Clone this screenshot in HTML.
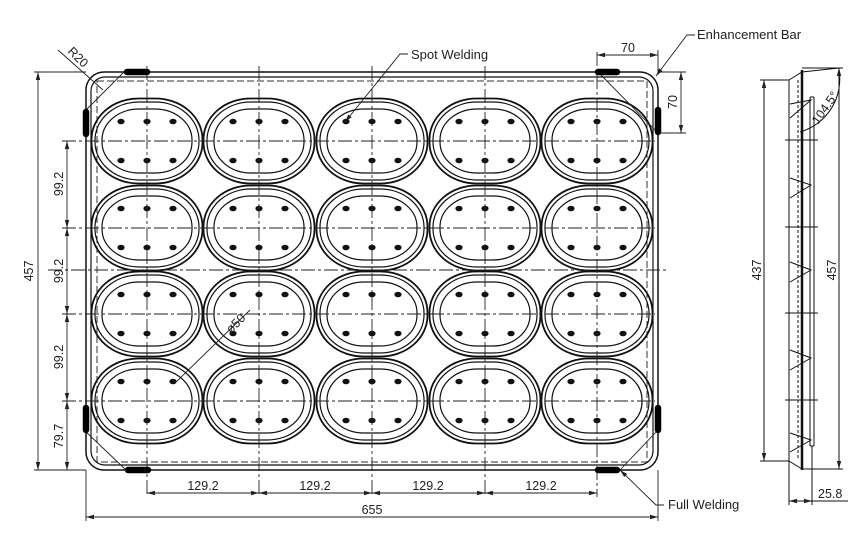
<!DOCTYPE html>
<html><head><meta charset="utf-8"><style>
html,body{margin:0;padding:0;background:#fff;}
svg{display:block;}
text{font-family:"Liberation Sans","DejaVu Sans",sans-serif;fill:#222;}
</style></head><body>
<svg width="866" height="534" viewBox="0 0 866 534" xmlns="http://www.w3.org/2000/svg">
<defs>
<g id="ov">
  <rect x="-55.5" y="-42.5" width="111" height="85" rx="47" ry="41" fill="none" stroke="#111" stroke-width="1.8"/>
  <rect x="-52" y="-39" width="104" height="78" rx="44" ry="38" fill="none" stroke="#111" stroke-width="1.2"/>
  <rect x="-45" y="-32" width="90" height="64" rx="37" ry="31" fill="none" stroke="#111" stroke-width="1.2"/>
  <g fill="#111">
    <ellipse cx="-26" cy="-19.5" rx="3.6" ry="2.8"/><ellipse cx="0" cy="-19.5" rx="3.6" ry="2.8"/><ellipse cx="26" cy="-19.5" rx="3.6" ry="2.8"/>
    <ellipse cx="-26" cy="19.5" rx="3.6" ry="2.8"/><ellipse cx="0" cy="19.5" rx="3.6" ry="2.8"/><ellipse cx="26" cy="19.5" rx="3.6" ry="2.8"/>
  </g>
</g>
<marker id="ar" markerWidth="8" markerHeight="6" refX="8" refY="3" orient="auto-start-reverse" markerUnits="userSpaceOnUse"><path d="M0,0.8 L8,3 L0,5.2z" fill="#222"/></marker>
</defs>

<rect x="86" y="72" width="572" height="398" rx="18" fill="none" stroke="#111" stroke-width="1.5"/>
<rect x="91" y="77" width="562" height="388" rx="14" fill="none" stroke="#111" stroke-width="1.2"/>
<rect x="97" y="81" width="550" height="381" fill="none" stroke="#333" stroke-width="1" stroke-dasharray="7,3"/>

<g>
<use href="#ov" x="147" y="141"/><use href="#ov" x="259" y="141"/><use href="#ov" x="372" y="141"/><use href="#ov" x="485" y="141"/><use href="#ov" x="597" y="141"/>
<use href="#ov" x="147" y="228"/><use href="#ov" x="259" y="228"/><use href="#ov" x="372" y="228"/><use href="#ov" x="485" y="228"/><use href="#ov" x="597" y="228"/>
<use href="#ov" x="147" y="314"/><use href="#ov" x="259" y="314"/><use href="#ov" x="372" y="314"/><use href="#ov" x="485" y="314"/><use href="#ov" x="597" y="314"/>
<use href="#ov" x="147" y="401"/><use href="#ov" x="259" y="401"/><use href="#ov" x="372" y="401"/><use href="#ov" x="485" y="401"/><use href="#ov" x="597" y="401"/>
</g>

<g stroke="#222" stroke-width="0.9" stroke-dasharray="14,3,3,3" fill="none">
  <line x1="62" y1="141" x2="655" y2="141"/>
  <line x1="62" y1="228" x2="655" y2="228"/>
  <line x1="48" y1="270" x2="668" y2="270"/>
  <line x1="62" y1="314" x2="655" y2="314"/>
  <line x1="62" y1="401" x2="655" y2="401"/>
  <line x1="147" y1="66" x2="147" y2="497"/>
  <line x1="259" y1="66" x2="259" y2="497"/>
  <line x1="372" y1="66" x2="372" y2="497"/>
  <line x1="485" y1="66" x2="485" y2="497"/>
  <line x1="597" y1="52" x2="597" y2="497"/>
</g>

<g stroke="#222" stroke-width="0.9">
  <line x1="58" y1="50" x2="103" y2="90"/>
  <line x1="84" y1="112" x2="124" y2="72"/>
  <line x1="84" y1="430" x2="126" y2="470"/>
  <line x1="598" y1="72" x2="658" y2="133"/>
  <line x1="620" y1="470" x2="658" y2="430"/>
</g>
<g stroke="#000" stroke-width="6.5" stroke-linecap="round">
  <line x1="127" y1="72" x2="147" y2="72"/>
  <line x1="86" y1="112" x2="86" y2="134"/>
  <line x1="598" y1="72" x2="617" y2="72"/>
  <line x1="658" y1="110" x2="658" y2="132"/>
  <line x1="86" y1="408" x2="86" y2="430"/>
  <line x1="128" y1="470" x2="148" y2="470"/>
  <line x1="658" y1="408" x2="658" y2="430"/>
  <line x1="598" y1="470" x2="617" y2="470"/>
</g>

<g stroke="#222" stroke-width="0.9" fill="none">
  <line x1="34" y1="72" x2="86" y2="72"/>
  <line x1="34" y1="470" x2="86" y2="470"/>
  <line x1="38" y1="72" x2="38" y2="470" marker-start="url(#ar)" marker-end="url(#ar)"/>
  <line x1="67" y1="141" x2="67" y2="228" marker-start="url(#ar)" marker-end="url(#ar)"/>
  <line x1="67" y1="228" x2="67" y2="314" marker-start="url(#ar)" marker-end="url(#ar)"/>
  <line x1="67" y1="314" x2="67" y2="401" marker-start="url(#ar)" marker-end="url(#ar)"/>
  <line x1="67" y1="401" x2="67" y2="470" marker-start="url(#ar)" marker-end="url(#ar)"/>
  <line x1="147" y1="493" x2="259" y2="493" marker-start="url(#ar)" marker-end="url(#ar)"/>
  <line x1="259" y1="493" x2="372" y2="493" marker-start="url(#ar)" marker-end="url(#ar)"/>
  <line x1="372" y1="493" x2="485" y2="493" marker-start="url(#ar)" marker-end="url(#ar)"/>
  <line x1="485" y1="493" x2="597" y2="493" marker-start="url(#ar)" marker-end="url(#ar)"/>
  <line x1="86" y1="470" x2="86" y2="521"/>
  <line x1="658" y1="470" x2="658" y2="521"/>
  <line x1="86" y1="517" x2="658" y2="517" marker-start="url(#ar)" marker-end="url(#ar)"/>
  <line x1="658" y1="50" x2="658" y2="72"/>
  <line x1="597" y1="55" x2="658" y2="55" marker-start="url(#ar)" marker-end="url(#ar)"/>
  <line x1="660" y1="72" x2="686" y2="72"/>
  <line x1="660" y1="133" x2="686" y2="133"/>
  <line x1="681" y1="72" x2="681" y2="133" marker-start="url(#ar)" marker-end="url(#ar)"/>
  <polyline points="408,54 400,54 345,122" marker-end="url(#ar)"/>
  <polyline points="695,35 687,35 656,76" marker-end="url(#ar)"/>
  <polyline points="664,505 656,505 620,470" marker-end="url(#ar)"/>
  <line x1="175" y1="383" x2="250" y2="310"/>
</g>

<g font-size="12.5">
  <text x="411" y="59" font-size="13">Spot Welding</text>
  <text x="697" y="39" font-size="13">Enhancement Bar</text>
  <text x="668" y="509" font-size="13">Full Welding</text>
  <text x="628" y="52" text-anchor="middle">70</text>
  <text transform="translate(677,102) rotate(-90)" text-anchor="middle">70</text>
  <text transform="translate(33,271) rotate(-90)" text-anchor="middle">457</text>
  <text transform="translate(63,184) rotate(-90)" text-anchor="middle">99.2</text>
  <text transform="translate(63,271) rotate(-90)" text-anchor="middle">99.2</text>
  <text transform="translate(63,357) rotate(-90)" text-anchor="middle">99.2</text>
  <text transform="translate(63,436) rotate(-90)" text-anchor="middle">79.7</text>
  <text x="203" y="490" text-anchor="middle">129.2</text>
  <text x="315" y="490" text-anchor="middle">129.2</text>
  <text x="428" y="490" text-anchor="middle">129.2</text>
  <text x="541" y="490" text-anchor="middle">129.2</text>
  <text x="372" y="514" text-anchor="middle">655</text>
  <text transform="translate(67,52) rotate(45)">R20</text>
  <text transform="translate(231,334) rotate(-45)">ø50</text>
</g>

<g stroke="#111" fill="none" stroke-width="1">
  <line x1="760" y1="80" x2="789" y2="80"/>
  <line x1="760" y1="461" x2="789" y2="461"/>
  <line x1="764" y1="80" x2="764" y2="461" marker-start="url(#ar)" marker-end="url(#ar)"/>
  <line x1="802" y1="68" x2="843" y2="68"/>
  <line x1="802" y1="469" x2="843" y2="469"/>
  <line x1="839" y1="68" x2="839" y2="469" marker-start="url(#ar)" marker-end="url(#ar)"/>
  <path d="M789,80 L802,72 L839,68"/>
  <path d="M789,80 L789,461 L802,469"/>
  <line x1="802" y1="70" x2="802" y2="470" stroke-width="2.5"/>
  <line x1="798" y1="80" x2="798" y2="460" stroke-dasharray="3,2"/>
  <line x1="810" y1="97" x2="810" y2="446"/>
  <line x1="814" y1="97" x2="814" y2="446"/>
  <line x1="810" y1="97" x2="814" y2="97"/>
  <line x1="810" y1="446" x2="814" y2="446"/>
  <path d="M790,104 L811,100 L790,118"/>
  <path d="M790,178 L811,185 L790,198"/>
  <path d="M790,262 L811,270 L790,282"/>
  <path d="M790,350 L811,358 L790,370"/>
  <path d="M790,433 L811,440 L790,452"/>
  <line x1="785" y1="140" x2="818" y2="140"/>
  <line x1="785" y1="227" x2="818" y2="227"/>
  <line x1="785" y1="313" x2="818" y2="313"/>
  <line x1="785" y1="400" x2="818" y2="400"/>
  <path d="M800,132 A55,55 0 0 0 839,70"/>
  <line x1="789" y1="461" x2="789" y2="505"/>
  <line x1="812" y1="446" x2="812" y2="505"/>
  <line x1="789" y1="501" x2="812" y2="501" marker-start="url(#ar)" marker-end="url(#ar)"/>
  <line x1="812" y1="501" x2="848" y2="501"/>
</g>
<g font-size="12.5">
  <text transform="translate(761,270) rotate(-90)" text-anchor="middle">437</text>
  <text transform="translate(836,270) rotate(-90)" text-anchor="middle">457</text>
  <text transform="translate(818,125) rotate(-55)">104.5°</text>
  <text x="818" y="498">25.8</text>
</g>
</svg>
</body></html>
